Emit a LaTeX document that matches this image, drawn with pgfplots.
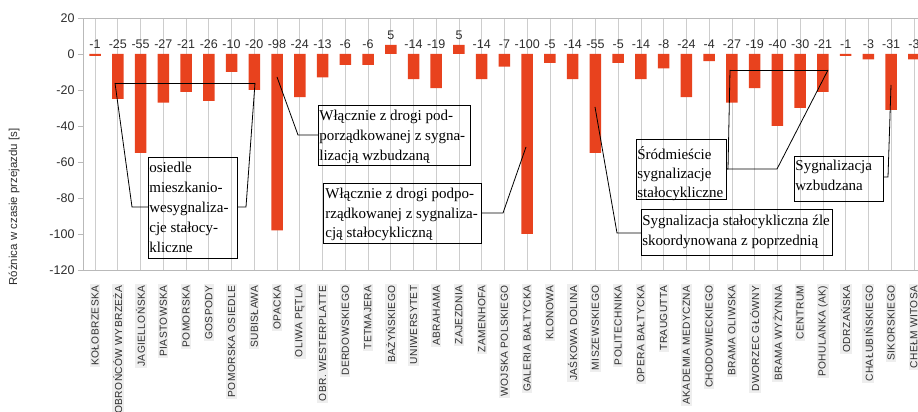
\documentclass[border=0pt]{standalone}
\usepackage{pgfplots}
\usepackage{pgfplotstable}
\pgfplotsset{compat=1.18}
\usepackage{fontspec}
\setmainfont{Liberation Sans}
\newfontfamily\serif{Liberation Serif}
\newfontfamily\spaced[LetterSpace=4]{Liberation Sans}
\definecolor{barred}{RGB}{232,66,30}
\definecolor{gridgray}{RGB}{205,205,205}
\definecolor{axisgray}{RGB}{185,185,185}
\definecolor{labcol}{RGB}{45,45,45}
\definecolor{labbg}{RGB}{238,238,238}

\pgfplotstableread{
x y ypos
0 -1 0
1 -25 0
2 -55 0
3 -27 0
4 -21 0
5 -26 0
6 -10 0
7 -20 0
8 -98 0
9 -24 0
10 -13 0
11 -6 0
12 -6 0
13 5 5
14 -14 0
15 -19 0
16 5 5
17 -14 0
18 -7 0
19 -100 0
20 -5 0
21 -14 0
22 -55 0
23 -5 0
24 -14 0
25 -8 0
26 -24 0
27 -4 0
28 -27 0
29 -19 0
30 -40 0
31 -30 0
32 -21 0
33 -1 0
34 -3 0
35 -31 0
36 -3 0
}\data

\begin{document}
\begin{tikzpicture}
\begin{axis}[
  at={(83pt,142pt)}, anchor=south west,
  width=835pt, height=252pt, scale only axis,
  xmin=-0.53, xmax=36.18, ymin=-120, ymax=20,
  axis x line*=box, axis y line*=left,
  axis line style={draw=axisgray, line width=0.8pt},
  xtick={0,...,36},
  xticklabels={KOŁOBRZESKA,OBROŃCÓW WYBRZEŻA,JAGIELLOŃSKA,PIASTOWSKA,POMORSKA,GOSPODY,POMORSKA OSIEDLE,SUBISŁAWA,OPACKA,OLIWA PĘTLA,OBR. WESTERPLATTE,DERDOWSKIEGO,TETMAJERA,BAŻYŃSKIEGO,UNIWERSYTET,ABRAHAMA,ZAJEZDNIA,ZAMENHOFA,WOJSKA POLSKIEGO,GALERIA BAŁTYCKA,KLONOWA,JAŚKOWA DOLINA,MISZEWSKIEGO,POLITECHNIKA,OPERA BAŁTYCKA,TRAUGUTTA,AKADEMIA MEDYCZNA,CHODOWIECKIEGO,BRAMA OLIWSKA,DWORZEC GŁÓWNY,BRAMA WYŻYNNA,CENTRUM,POHULANKA (AK),ODRZAŃSKA,CHAŁUBIŃSKIEGO,SIKORSKIEGO,CHEŁM WITOSA},
  ytick={-120,-100,-80,-60,-40,-20,0,20},
  yticklabels={-120,-100,-80,-60,-40,-20,0,20},
  xmajorgrids, grid style={draw=gridgray, line width=0.7pt},
  x tick style={draw=none},
  y tick style={draw=axisgray, line width=0.8pt},
  tick align=outside, major tick length=5pt,
  xticklabel shift=9pt,
  xticklabel style={rotate=90, anchor=east, font=\spaced\fontsize{10.2}{12}\selectfont, text=labcol, fill=labbg, inner sep=1.5pt},
  yticklabel style={font=\fontsize{12.5}{14}\selectfont, text=labcol},
]
\addplot[ybar, bar width=11.5pt, bar shift=0pt, fill=barred, draw=none] table[x=x, y=y] {\data};
\addplot[draw=none, mark=none, nodes near coords, point meta=explicit symbolic,
  nodes near coords style={font=\fontsize{12.5}{14}\selectfont, text=labcol, anchor=south, inner sep=1pt, yshift=4pt}]
  table[x=x, y=ypos, meta=y] {\data};
\end{axis}

\node[rotate=90, font=\fontsize{11.5}{13}\selectfont, text=labcol] at (14pt,205pt) {Różnica w czasie przejazdu [s]};

\begin{scope}[x=1pt, y=-1pt, shift={(0pt,412pt)}, line width=0.8pt]
  \tikzset{ann/.style={anchor=north west, align=left, inner sep=0pt, font=\serif\fontsize{15}{20}\selectfont}}
  % box 1
  \draw (148,157) rectangle (237,258);
  \node[ann] at (149,162) {osiedle\\mieszkanio-\\wesygnaliza-\\cje stałocy-\\kliczne};
  \draw (115,83) -- (255,83);
  \draw (115,83) -- (132,207) -- (148,207);
  \draw (255,83) -- (246,207) -- (237,207);
  % box 2
  \draw (318,105) rectangle (470,165);
  \node[ann] at (319,110) {Włącznie z drogi pod-\\porządkowanej z sygna-\\lizacją wzbudzaną};
  \draw (277,77) -- (298,135) -- (318,135);
  % box 3
  \draw (323,183) rectangle (481,243);
  \node[ann, font=\serif\fontsize{15}{19.5}\selectfont] at (325,188) {Włącznie z drogi podpo-\\rządkowanej z sygnaliza-\\cją stałocykliczną};
  \draw (481,213) -- (503,213) -- (526,147);
  % box 4
  \draw (641,209) rectangle (832,255);
  \node[ann] at (642,215) {Sygnalizacja stałocykliczna źle\\skoordynowana z poprzednią};
  \draw (595,107) -- (617,233) -- (641,233);
  % box 5
  \draw (636,139) rectangle (726,199);
  \node[ann, font=\serif\fontsize{15}{19}\selectfont] at (637,146) {Śródmieście\\sygnalizacje\\stałocykliczne};
  \draw (730,70) -- (828,70);
  \draw (730,70) -- (728,169) -- (726,169);
  \draw (828,70) -- (777,169) -- (726,169);
  % box 6
  \draw (794,156) rectangle (883,201);
  \node[ann] at (795,160) {Sygnalizacja\\wzbudzana};
  \draw (891,85) -- (888,177) -- (883,177);
\end{scope}

\pgfresetboundingbox
\useasboundingbox (0pt,0pt) rectangle (918pt,412pt);
\end{tikzpicture}
\end{document}
